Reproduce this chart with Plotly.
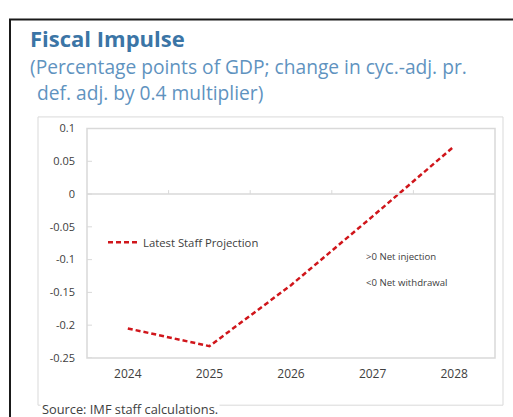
import plotly.graph_objects as go

# Fiscal impulse, percentage points of GDP
years = ["2024", "2025", "2026", "2027", "2028"]
impulse = [-0.205, -0.232, -0.139, -0.034, 0.073]
y_ticks = [0.1, 0.05, 0, -0.05, -0.1, -0.15, -0.2, -0.25]
y_tick_text = ["0.1", "0.05", "0", "-0.05", "-0.1", "-0.15", "-0.2", "-0.25"]

W, H = 513, 417
FONT = "Open Sans"


def px(x):
    return x / W


def py(y):
    return 1 - y / H


fig = go.Figure()
fig.add_trace(go.Scatter(
    x=years, y=impulse, mode="lines", name="Latest Staff Projection",
    line=dict(color="#d0161b", width=2.5, dash="5px,3px"),
    showlegend=True,
))

shapes = [
    # outer frame
    dict(type="rect", xref="paper", yref="paper", x0=px(10), x1=px(530), y0=py(440), y1=py(12),
         line=dict(color="#1a1a1a", width=2)),
    # chart box
    dict(type="rect", xref="paper", yref="paper", x0=px(38), x1=px(503), y0=py(412), y1=py(113),
         line=dict(color="#d9d9d9", width=1)),
    # plot frame
    dict(type="rect", xref="paper", yref="paper", x0=px(87), x1=px(495), y0=py(363), y1=py(125),
         line=dict(color="#d9d9d9", width=1.5)),
]
# zero line with category boundary ticks
shapes.append(dict(type="line", xref="paper", yref="y", x0=px(87), x1=px(495), y0=0, y1=0,
                   line=dict(color="#d9d9d9", width=1.5)))
for i in range(len(years) - 1):
    shapes.append(dict(type="line", xref="x", yref="y", x0=i + 0.5, x1=i + 0.5, y0=0, y1=0.006,
                       line=dict(color="#d9d9d9", width=1)))
# y-axis tick marks
for v in y_ticks:
    shapes.append(dict(type="line", xref="paper", yref="y", x0=px(87), x1=px(92), y0=v, y1=v,
                       line=dict(color="#d9d9d9", width=1)))

annotations = [
    dict(text="<b>Fiscal Impulse</b>", x=px(28), y=py(31), xref="paper", yref="paper",
         xanchor="left", yanchor="middle", showarrow=False,
         font=dict(family=FONT, size=22, color="#3b75a6")),
    dict(text="(Percentage points of GDP; change in cyc.-adj. pr.", x=px(28), y=py(61),
         xref="paper", yref="paper", xanchor="left", yanchor="middle", showarrow=False,
         font=dict(family=FONT, size=19.2, color="#5f93bf")),
    dict(text=" def. adj. by 0.4 multiplier)", x=px(30), y=py(88),
         xref="paper", yref="paper", xanchor="left", yanchor="middle", showarrow=False,
         font=dict(family=FONT, size=19.2, color="#5f93bf")),
    dict(text="&gt;0 Net injection", x=px(364), y=py(258), xref="paper", yref="paper",
         xanchor="left", yanchor="middle", showarrow=False,
         font=dict(family=FONT, size=9.6, color="#404040")),
    dict(text="&lt;0 Net withdrawal", x=px(364), y=py(285), xref="paper", yref="paper",
         xanchor="left", yanchor="middle", showarrow=False,
         font=dict(family=FONT, size=9.6, color="#404040")),
    dict(text="Source: IMF staff calculations.", x=px(40), y=py(416), xref="paper", yref="paper",
         xanchor="left", yanchor="middle", showarrow=False, bgcolor="white",
         font=dict(family=FONT, size=12.8, color="#404040")),
]

fig.update_layout(
    width=W, height=H,
    margin=dict(l=0, r=0, t=0, b=0),
    paper_bgcolor="white", plot_bgcolor="white",
    font=dict(family=FONT, size=11, color="#404040"),
    xaxis=dict(domain=[px(87), px(495)], range=[-0.5, 4.5], type="category",
               showgrid=False, zeroline=False, showline=False, ticks="",
               tickfont=dict(size=12, color="#404040"), ticklabelstandoff=7),
    yaxis=dict(domain=[py(363), py(125)], range=[-0.25, 0.1], tickvals=y_ticks,
               ticktext=y_tick_text, showgrid=False, zeroline=False, showline=False,
               ticks="", tickfont=dict(size=11, color="#404040"), ticklabelstandoff=11),
    legend=dict(x=px(103), y=py(243), xanchor="left", yanchor="middle",
                bgcolor="rgba(0,0,0,0)", font=dict(size=11.3, color="#404040"),
                itemwidth=30),
    shapes=shapes,
    annotations=annotations,
)

fig.write_html("out.html")
